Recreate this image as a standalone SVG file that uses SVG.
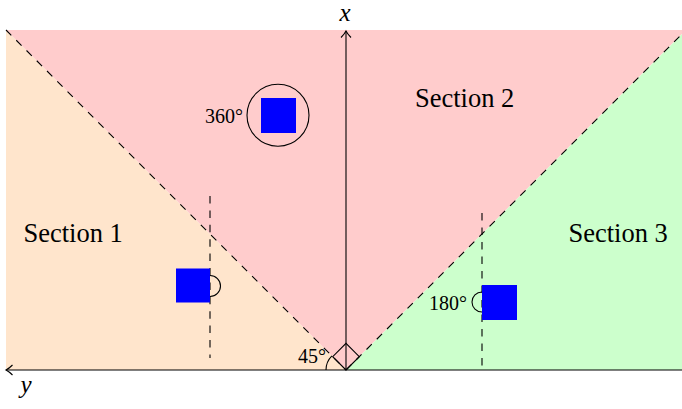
<svg xmlns="http://www.w3.org/2000/svg" width="682" height="409" viewBox="0 0 682 409">
<style>
.ln{stroke:#000;stroke-width:1.1;fill:none}
.dash{stroke:#000;stroke-width:1.1;fill:none;stroke-dasharray:7.5 7}
.sq{fill:#0000FF}
.sec{font-family:"Liberation Serif",serif;font-size:26.5px;fill:#000}
.ang{font-family:"Liberation Serif",serif;font-size:20px;fill:#000}
.ax{font-family:"Liberation Serif",serif;font-size:25px;font-style:italic;fill:#000}
</style>
<defs>
<marker id="to" markerUnits="userSpaceOnUse" markerWidth="12" markerHeight="12" refX="8" refY="6" orient="auto" overflow="visible">
<path d="M1.5,1 Q5,4.5 8,6 Q5,7.5 1.5,11" fill="none" stroke="#000" stroke-width="1.1"/>
</marker>
</defs>
<g id="regions">
<polygon points="6,30 346,370 6,370" fill="#FFE5CC"/>
<polygon points="6,30 686,30 346,370" fill="#FFCCCC"/>
<polygon points="686,30 686,370 346,370" fill="#CCFFCC"/>
</g>
<g id="connectors">
<line class="dash" x1="6" y1="30" x2="346" y2="370"/>
<line class="dash" x1="346" y1="370" x2="686" y2="30"/>
<line class="ln" x1="346" y1="370" x2="346" y2="31" marker-end="url(#to)"/>
<line class="ln" x1="682" y1="370" x2="6" y2="370" marker-end="url(#to)"/>
<line class="dash" x1="210" y1="196" x2="210" y2="358" style="stroke-dasharray:7.5 6.9"/>
<line class="dash" x1="482" y1="213" x2="482" y2="370"/>
<path class="ln" d="M346,370 L332.7,356.7 L346,343.4 L359.3,356.7 Z"/>
<path class="ln" d="M326,370 A20,20 0 0 1 331.9,355.9"/>
</g>
<g id="axis-labels">
<text class="ax" x="345" y="21" text-anchor="middle">x</text>
<text class="ax" x="26" y="393" text-anchor="middle">y</text>
<text class="ang" x="326" y="363" text-anchor="end">45°</text>
</g>
<g id="section1">
<text class="sec" x="23.5" y="242">Section 1</text>
<rect class="sq" x="176" y="268.5" width="34" height="34"/>
<path class="ln" d="M210,275.5 A10.5,10.5 0 0 1 210,296.5"/>
</g>
<g id="section2">
<text class="sec" x="415" y="106.5">Section 2</text>
<circle class="ln" cx="278" cy="115.3" r="31"/>
<rect class="sq" x="261" y="98" width="35" height="35"/>
<text class="ang" x="243" y="123" text-anchor="end">360°</text>
</g>
<g id="section3">
<text class="sec" x="568.5" y="242">Section 3</text>
<rect class="sq" x="482" y="285" width="35" height="35"/>
<path class="ln" d="M482,292 A10,10 0 0 0 482,312"/>
<text class="ang" x="467" y="310" text-anchor="end">180°</text>
</g>
</svg>
